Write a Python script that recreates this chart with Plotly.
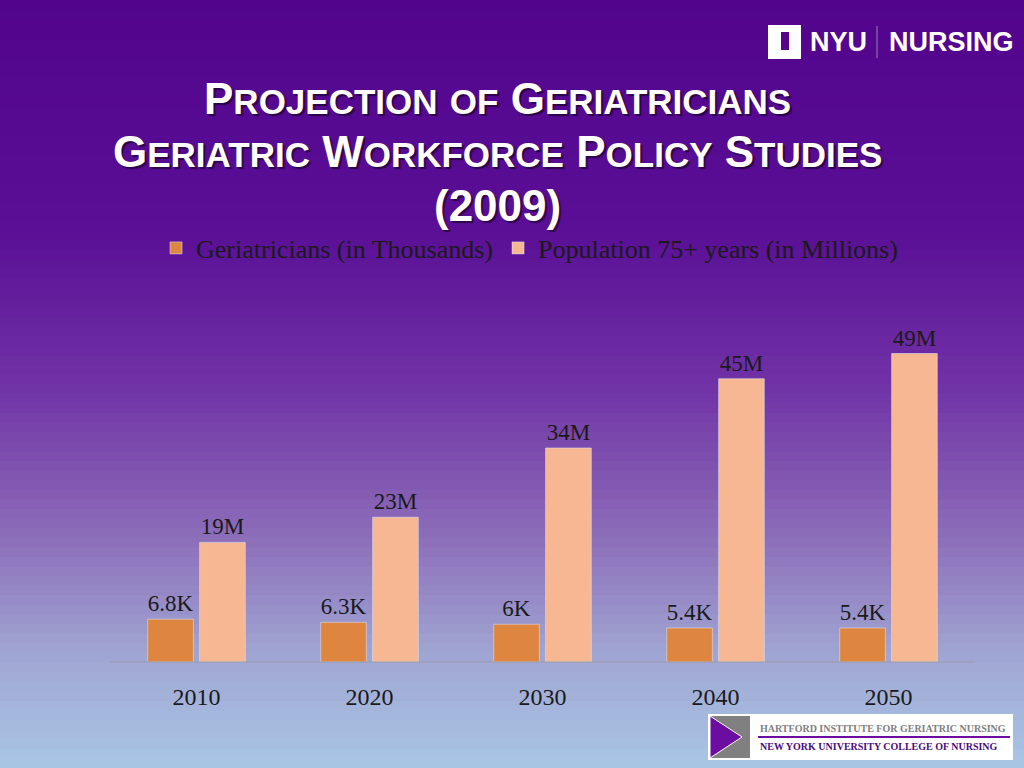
import plotly.graph_objects as go

years = ["2010", "2020", "2030", "2040", "2050"]
geri = [6.8, 6.3, 6.0, 5.4, 5.4]
geri_labels = ["6.8K", "6.3K", "6K", "5.4K", "5.4K"]
pop = [19, 23, 34, 45, 49]
pop_labels = ["19M", "23M", "34M", "45M", "49M"]

W, H = 1024, 768
fig = go.Figure()
serif = "Liberation Serif, Georgia, serif"
fig.add_trace(go.Bar(x=years, y=geri, name="Geriatricians (in Thousands)", marker_color="#DE8640",
                     text=geri_labels, textposition="outside", cliponaxis=False,
                     textfont=dict(family=serif, size=23, color="#1a1a1a")))
fig.add_trace(go.Bar(x=years, y=pop, name="Population 75+ years (in Millions)", marker_color="#F7B792",
                     text=pop_labels, textposition="outside", cliponaxis=False,
                     textfont=dict(family=serif, size=23, color="#1a1a1a")))

stops = [(0, (82, 4, 140)), (0.3, (90, 15, 150)), (0.5, (112, 50, 165)), (0.7, (140, 110, 185)),
         (0.85, (160, 165, 210)), (1.0, (168, 198, 228))]
def col(t):
    for (a, ca), (b, cb) in zip(stops, stops[1:]):
        if a <= t <= b:
            f = (t - a) / (b - a)
            return "rgb(%d,%d,%d)" % tuple(round(ca[i] + f * (cb[i] - ca[i])) for i in range(3))
    return "rgb(168,198,228)"

def px(x, y):
    return (x - 110) / 865, (662 - y) / 362

shapes = []
N = 80
for i in range(N):
    t0, t1 = i / N, (i + 1) / N
    shapes.append(dict(type="rect", xref="paper", yref="paper", layer="below", line_width=0,
                       x0=-110 / 865, x1=(1024 - 110) / 865,
                       y0=(662 - t1 * H - 1) / 362, y1=(662 - t0 * H) / 362,
                       fillcolor=col((t0 + t1) / 2)))

x0, y0 = px(110, 662); x1, _ = px(975, 662)
shapes.append(dict(type="line", xref="paper", yref="paper", x0=x0, x1=x1, y0=y0, y1=y0,
                   line=dict(color="#9a9aa8", width=1)))
a, b = px(768, 25); c, d = px(801, 59)
shapes.append(dict(type="rect", xref="paper", yref="paper", x0=a, y0=d, x1=c, y1=b, fillcolor="white", line_width=0))
a, b = px(781, 32); c, d = px(789, 50)
shapes.append(dict(type="rect", xref="paper", yref="paper", x0=a, y0=d, x1=c, y1=b, fillcolor="#57068C", line_width=0))
a, b = px(877, 26); _, d = px(877, 58)
shapes.append(dict(type="line", xref="paper", yref="paper", x0=a, x1=a, y0=b, y1=d, line=dict(color="#9a7fb0", width=1)))
a, b = px(708, 714); c, d = px(1013, 760)
shapes.append(dict(type="rect", xref="paper", yref="paper", x0=a, y0=d, x1=c, y1=b, fillcolor="white", line_width=0))
a, b = px(710, 716); c, d = px(750, 758)
shapes.append(dict(type="rect", xref="paper", yref="paper", x0=a, y0=d, x1=c, y1=b, fillcolor="#808080", line_width=0))
p1 = px(710, 716); p2 = px(742, 737); p3 = px(710, 758)
shapes.append(dict(type="path", xref="paper", yref="paper",
                   path="M %f,%f L %f,%f L %f,%f Z" % (p1 + p2 + p3), fillcolor="#6A0DA0",
                   line=dict(color="white", width=1)))
a, b = px(758, 737); c, _ = px(1010, 737)
shapes.append(dict(type="line", xref="paper", yref="paper", x0=a, x1=c, y0=b, y1=b, line=dict(color="#6A0DA0", width=2)))

anns = []
def ann(text, x, y, size, color, family="Liberation Sans, Arial", xanchor="center", shadow="none"):
    ax, ay = px(x, y)
    anns.append(dict(text=text, x=ax, y=ay, xref="paper", yref="paper", showarrow=False,
                     xanchor=xanchor, yanchor="middle",
                     font=dict(size=size, color=color, family=family, shadow=shadow)))

def sc(words, big=44, small=35):
    out = []
    for w in words.split(" "):
        if w.startswith("("):
            out.append("<span style='font-size:%dpx'>%s</span>" % (big, w))
        elif w.lower() == "of":
            out.append("<span style='font-size:%dpx'>%s</span>" % (small, w.upper()))
        else:
            out.append("<span style='font-size:%dpx'>%s</span><span style='font-size:%dpx'>%s</span>" % (big, w[0], small, w[1:].upper()))
    return " ".join(out)

title_lines = ["Projection of Geriatricians", "Geriatric Workforce Policy Studies", "(2009)"]
for txt, y in zip(title_lines, [99, 152, 205]):
    ann("<b>" + sc(txt) + "</b>", 497, y, 44, "white", shadow="2px 2px 1px rgba(0,0,0,0.5)")

ann("<b>NYU</b>", 808, 42, 27, "white", xanchor="left")
ann("<b>NURSING</b>", 887, 42, 27, "white", xanchor="left")
ann("<b>HARTFORD INSTITUTE FOR GERIATRIC NURSING</b>", 758, 728, 10, "#808080", family="Liberation Serif", xanchor="left")
ann("<b>NEW YORK UNIVERSITY COLLEGE OF NURSING</b>", 758, 746, 10, "#4B0A7A", family="Liberation Serif", xanchor="left")

fig.update_layout(
    width=W, height=H, margin=dict(l=110, r=49, t=300, b=106),
    paper_bgcolor="#5a0a8f", plot_bgcolor="rgba(0,0,0,0)",
    barmode="group", bargap=0.4, bargroupgap=0.12,
    shapes=shapes, annotations=anns,
    legend=dict(orientation="h", x=0.485, xanchor="center", y=(662 - 248) / 362, yanchor="middle",
                font=dict(family=serif, size=26, color="#1a1a1a"), bgcolor="rgba(0,0,0,0)",
                itemwidth=30, traceorder="normal"),
    xaxis=dict(showgrid=False, showline=False, ticks="", tickfont=dict(family=serif, size=24, color="#1a1a1a")),
    yaxis=dict(range=[0, 57.5], visible=False),
    showlegend=True,
)
fig.update_xaxes(ticklabelstandoff=18)
fig.write_html("out.html", config={"displayModeBar": False},
               post_script="document.body.style.margin='0';document.body.style.overflow='hidden';")
